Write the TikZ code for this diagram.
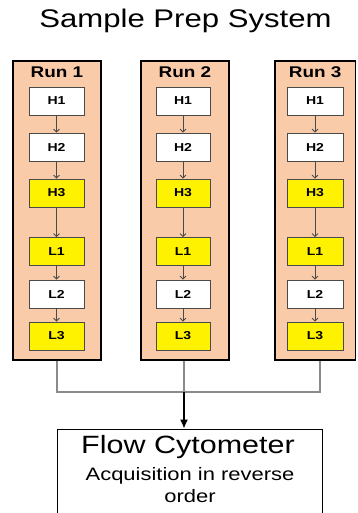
\documentclass[tikz,border=0pt]{standalone}
\usepackage{fontspec}
\setmainfont[FakeStretch=1.22]{Liberation Sans}
\setsansfont[FakeStretch=1.22]{Liberation Sans}
\usetikzlibrary{arrows.meta}
\definecolor{peach}{HTML}{F9CBA9}
\definecolor{stepline}{HTML}{4A4A4A}
\definecolor{joinline}{HTML}{8A8A8A}
\begin{document}
\begin{tikzpicture}[x=1pt,y=-1pt,
  runbox/.style={draw=black, line width=1.3pt, fill=peach, inner sep=0pt, minimum height=299pt},
  runlabel/.style={font=\fontsize{15.5}{17}\selectfont\bfseries, inner sep=0pt},
  stepbox/.style={draw=stepline, line width=0.8pt, fill=white, inner sep=0pt,
    minimum height=28pt, font=\fontsize{11.5}{13}\selectfont\bfseries},
  hot/.style={fill=yellow},
  flowarrow/.style={draw=stepline, line width=0.8pt, -{Straight Barb[length=3pt,width=6pt]}},
  joinlink/.style={draw=joinline, line width=1.3pt},
  mainarrow/.style={draw=black, line width=1.3pt, -{Latex[length=9pt,width=8pt]}},
  outbox/.style={draw=black, line width=1pt, fill=white, inner sep=0pt}
]
\useasboundingbox (0,0) rectangle (357,513);
\clip (0,0) rectangle (357,513);

% title
\node[font=\fontsize{25.5}{28}\selectfont, inner sep=0pt, anchor=base] (title) at (185.5,28) {Sample Prep System};

% the three runs: index / box centre x / box width / step centre x / step width
\foreach \r/\bx/\bw/\sx/\sw in {1/57/88/56.5/55, 2/185/88/183/54, 3/315.25/80.5/315/56}{
  \node[runbox, minimum width=\bw pt] (run\r) at (\bx,210.5) {};
  \node[runlabel] (lab\r) at (\bx,72) {Run \r};
  \node[stepbox, minimum width=\sw pt] (h1r\r) at (\sx,101) {H1};
  \node[stepbox, minimum width=\sw pt] (h2r\r) at (\sx,147) {H2};
  \node[stepbox, hot, minimum width=\sw pt] (h3r\r) at (\sx,193) {H3};
  \node[stepbox, hot, minimum width=\sw pt] (l1r\r) at (\sx,251.5) {L1};
  \node[stepbox, minimum width=\sw pt] (l2r\r) at (\sx,294) {L2};
  \node[stepbox, hot, minimum width=\sw pt] (l3r\r) at (\sx,336) {L3};
  \draw[flowarrow] (h1r\r) -- (h2r\r);
  \draw[flowarrow] (h2r\r) -- (h3r\r);
  \draw[flowarrow] (h3r\r) -- (l1r\r);
  \draw[flowarrow] (l1r\r) -- (l2r\r);
  \draw[flowarrow] (l2r\r) -- (l3r\r);
}

% joining lines under the runs
\coordinate (j1) at (57,392);
\coordinate (j2) at (184,392);
\coordinate (j3) at (320,392);
\draw[joinlink] (j1 |- run1.south) -- (j1) -- (j3) -- (j3 |- run3.south);
\draw[joinlink] (j2 |- run2.south) -- (j2);

% flow cytometer
\node[outbox, minimum width=265pt, minimum height=111pt] (flow) at (189.5,484.5) {};
\draw[mainarrow] (j2) -- (j2 |- flow.north);
\node[font=\fontsize{25}{28}\selectfont, inner sep=0pt, anchor=base] (fctitle) at (188,453) {Flow Cytometer};
\node[font=\fontsize{18}{20}\selectfont, inner sep=0pt, anchor=base] (acq1) at (190,480) {Acquisition in reverse};
\node[font=\fontsize{18}{20}\selectfont, inner sep=0pt, anchor=base] (acq2) at (190,502) {order};
\end{tikzpicture}
\end{document}
